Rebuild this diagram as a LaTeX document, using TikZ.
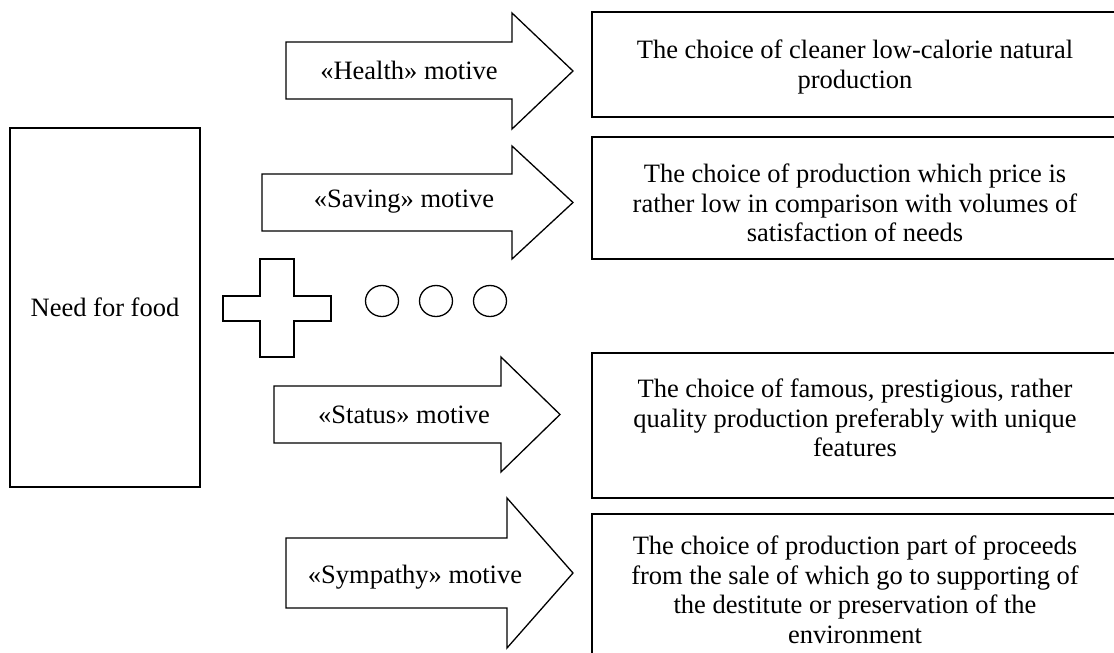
\documentclass[tikz,border=0pt]{standalone}
\usepackage{fontspec}
\setmainfont{Liberation Serif}
\begin{document}
\begin{tikzpicture}[x=1pt,y=-1pt,
  outline/.style={draw=black,line width=1.3pt,line join=miter},
  box/.style={outline,inner sep=0pt},
  label/.style={inner sep=0pt,align=center,font=\fontsize{26.5}{29.5}\selectfont}]
\useasboundingbox (0,0) rectangle (1114,653);
\clip (0,0) rectangle (1114,653);

% source need
\node[box,minimum width=190pt,minimum height=359pt] (need) at (105,307.5) {};
\node[label] (needtxt) at (105,307) {Need for food};

% block arrows for the four motives
\draw[outline] (286,42) -- (512,42) -- (512,13) -- (573,71) -- (512,129) -- (512,99) -- (286,99) -- cycle;
\draw[outline] (262,174) -- (512,174) -- (512,146) -- (573,202.5) -- (512,259) -- (512,231) -- (262,231) -- cycle;
\draw[outline] (274,386) -- (501,386) -- (501,357) -- (560,414.5) -- (501,472) -- (501,443) -- (274,443) -- cycle;
\draw[outline] (286,538) -- (507,538) -- (507,498) -- (573,573) -- (507,648) -- (507,608) -- (286,608) -- cycle;

\node[label] (health) at (409,70) {«Health» motive};
\node[label] (saving) at (404,202) {«Saving» motive};
\node[label] (status) at (404,415) {«Status» motive};
\node[label] (sympathy) at (415,577) {«Sympathy» motive};

% plus sign and three circles
\draw[outline] (260,259) -- (294,259) -- (294,296) -- (331,296) -- (331,321) -- (294,321)
  -- (294,357) -- (260,357) -- (260,321) -- (223,321) -- (223,296) -- (260,296) -- cycle;
\foreach \cx in {382,436,490}
  \draw[outline] (\cx,301) ellipse [x radius=16.5pt,y radius=15.5pt];

% result boxes
\node[box,minimum width=530pt,minimum height=105pt] (r1) at (857,64.5) {};
\node[box,minimum width=530pt,minimum height=122pt] (r2) at (857,198) {};
\node[box,minimum width=530pt,minimum height=145pt] (r3) at (857,425.5) {};
\node[box,minimum width=530pt,minimum height=180pt] (r4) at (857,604) {};

\node[label] (t1) at (855,67) {The choice of cleaner low-calorie natural\\production};
\node[label] (t2) at (855,203) {The choice of production which price is\\rather low in comparison with volumes of\\satisfaction of needs};
\node[label] (t3) at (855,418) {The choice of famous, prestigious, rather\\quality production preferably with unique\\features};
\node[label] (t4) at (855,590) {The choice of production part of proceeds\\from the sale of which go to supporting of\\the destitute or preservation of the\\environment};
\end{tikzpicture}
\end{document}
